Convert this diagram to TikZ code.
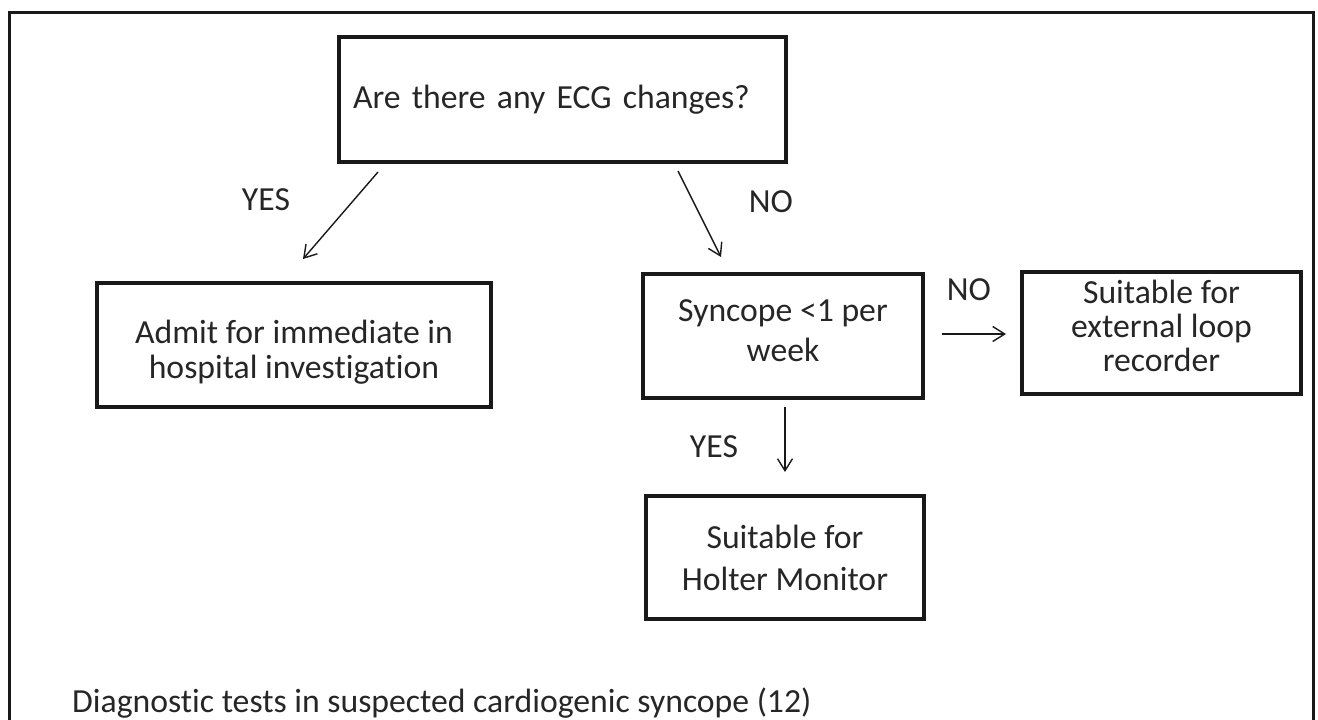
\documentclass[tikz,border=0pt]{standalone}
\usepackage{fontspec}
\setmainfont{Carlito}[Ligatures={NoCommon,NoRare,NoContextual}]
\usetikzlibrary{arrows.meta}
\definecolor{ink}{RGB}{38,38,38}
\definecolor{edge}{RGB}{25,25,25}
\newcommand{\fsz}[1]{\fontsize{33.7}{#1}\selectfont}
\newcommand{\topst}[1]{\rule{0pt}{#1pt}}
\newcommand{\botst}[1]{\rule[-#1pt]{0pt}{#1pt}}
\begin{document}
\begin{tikzpicture}[x=1pt,y=-1pt,
  box/.style={draw=edge, line width=3.1pt, align=center, inner sep=0pt, text=ink},
  lab/.style={text=ink, inner sep=0pt, font=\fsz{40}},
  arr/.style={draw=edge, line width=1.4pt, -{Straight Barb[length=12pt,width=15pt]}},
  frame/.style={draw=edge, line width=3pt}]
\useasboundingbox (0,0) rectangle (1318,720);
% outer frame (open at the bottom)
\draw[frame] (9,725) -- (9,12) -- (1313,12) -- (1313,725);

% boxes
\node[box, minimum width=447pt, minimum height=125pt, text width=419pt, align=left, font=\fsz{40}]
  (ecg) at (562.5,99.5) {Are there any ECG changes?};
\node[box, minimum width=394pt, minimum height=124pt, font=\fsz{35}]
  (admit) at (294,345) {\topst{51}Admit for immediate in\\hospital investigation\botst{20}};
\node[box, minimum width=280pt, minimum height=124pt, font=\fsz{40}]
  (sync) at (783,336) {\topst{30}Syncope {<}1 per\\week\botst{20}};
\node[box, minimum width=279pt, minimum height=122pt, font=\fsz{34}]
  (ext) at (1161.5,333) {\topst{28}Suitable for\\external loop\\recorder\botst{20}};
\node[box, minimum width=278pt, minimum height=123pt, font=\fsz{42}]
  (holter) at (785,557.5) {Suitable for\\Holter Monitor};

% connector end points
\coordinate (a1s) at (378,172);
\coordinate (a1e) at (303,259);
\coordinate (a2s) at (678,171);
\coordinate (a2e) at (721,257);
\coordinate (a3s) at (942,334);
\coordinate (a3e) at (1006,334);
\coordinate (a4s) at (785,407);
\coordinate (a4e) at (785,472);

\draw[arr] (a1s) -- (a1e);
\draw[arr] (a2s) -- (a2e);
\draw[arr] (a3s) -- (a3e);
\draw[arr] (a4s) -- (a4e);

% labels
\node[lab] (yes1) at (266,200) {YES};
\node[lab] (no1) at (771,202) {NO};
\node[lab] (no2) at (969,290) {NO};
\node[lab] (yes2) at (714,447) {YES};

% caption
\node[lab, anchor=base west] (cap) at (72,712) {Diagnostic tests in suspected cardiogenic syncope (12)};
\end{tikzpicture}
\end{document}
